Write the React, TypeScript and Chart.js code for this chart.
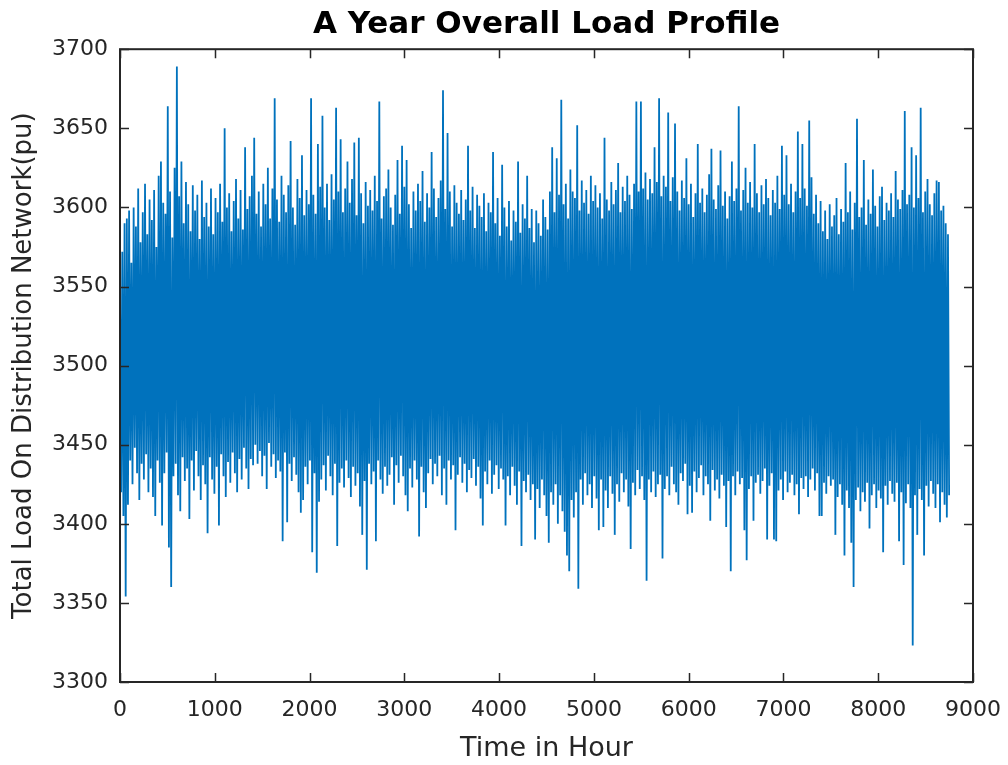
import React, { useEffect, useRef } from "react";
import { Chart, registerables } from "chart.js";

Chart.register(...registerables);

// Hours covered by one column of the envelope (upper spike, then lower spike)
const HOURS_PER_COLUMN = 24;

// Upper edge of the hourly load, read per day column (pu)
const dailyHigh: number[] = [
  3545, 3572, 3590, 3593, 3598, 3565, 3600, 3588, 3612, 3578,
  3597, 3615, 3583, 3605, 3592, 3611, 3575, 3620, 3629, 3603,
  3596, 3664, 3610, 3581, 3625, 3689, 3607, 3629, 3590, 3616,
  3602, 3585, 3614, 3598, 3608, 3580, 3617, 3594, 3603, 3588,
  3612, 3583, 3606, 3597, 3615, 3591, 3650, 3600, 3609, 3585,
  3604, 3618, 3593, 3611, 3586, 3638, 3599, 3607, 3620, 3644,
  3596, 3610, 3588, 3615, 3602, 3625, 3593, 3612, 3669, 3605,
  3591, 3620, 3608, 3597, 3614, 3642, 3600, 3589, 3618, 3606,
  3633, 3595, 3611, 3602, 3669, 3608, 3596, 3640, 3613, 3658,
  3600, 3615, 3592, 3621, 3605, 3663, 3610, 3643, 3597, 3612,
  3629, 3603, 3618, 3641, 3595, 3644, 3609, 3590, 3616, 3601,
  3611, 3598, 3620, 3604, 3667, 3593, 3607, 3612, 3624, 3600,
  3589, 3608, 3630, 3596, 3639, 3613, 3630, 3602, 3587, 3610,
  3598, 3615, 3604, 3623, 3591, 3609, 3600, 3635, 3612, 3594,
  3606, 3617, 3674, 3599, 3647, 3610, 3588, 3614, 3603, 3596,
  3611, 3592, 3605, 3639, 3598, 3613, 3587, 3608, 3601, 3594,
  3609, 3585, 3603, 3597, 3635, 3590, 3606, 3582, 3627, 3600,
  3588, 3604, 3579, 3598, 3591, 3629, 3584, 3602, 3593, 3620,
  3587, 3599, 3578, 3598, 3590, 3582, 3605, 3594, 3586, 3610,
  3638, 3597, 3631, 3608, 3668, 3602, 3615, 3593, 3624, 3610,
  3606, 3652, 3598, 3617, 3603, 3611, 3596, 3620, 3604, 3614,
  3600, 3609, 3593, 3644, 3605, 3598, 3616, 3602, 3611, 3628,
  3597, 3613, 3604, 3620, 3608, 3599, 3615, 3667, 3610, 3667,
  3612, 3622, 3605, 3618, 3609, 3638, 3616, 3669, 3607, 3620,
  3613, 3660, 3604, 3619, 3653, 3610, 3598, 3617, 3606, 3631,
  3602, 3615, 3594, 3609, 3640, 3603, 3612, 3597, 3608, 3621,
  3637, 3605, 3599, 3614, 3636, 3601, 3610, 3593, 3607, 3629,
  3604, 3612, 3664, 3598, 3611, 3625, 3603, 3616, 3600, 3640,
  3609, 3597, 3614, 3602, 3618, 3606, 3595, 3611, 3603, 3620,
  3599, 3639, 3608, 3633, 3602, 3615, 3597, 3610, 3648, 3606,
  3640, 3612, 3601, 3655, 3619, 3596, 3608, 3590, 3604, 3585,
  3598, 3580, 3602, 3588, 3595, 3606, 3583, 3599, 3591, 3628,
  3597, 3610, 3586, 3603, 3656, 3594, 3600, 3630, 3589, 3605,
  3596, 3624, 3601, 3588, 3607, 3613, 3592, 3603, 3598, 3609,
  3594, 3623, 3605, 3599, 3611, 3661, 3602, 3608, 3638, 3600,
  3633, 3606, 3663, 3597, 3610, 3618, 3602, 3595, 3609, 3617,
  3616, 3598, 3601, 3590, 3583,
];

// Lower edge of the hourly load, read per day column (pu)
const dailyLow: number[] = [
  3420, 3405, 3354, 3412, 3440, 3425, 3448, 3432, 3415, 3438,
  3428, 3444, 3420, 3435, 3417, 3405, 3440, 3426, 3399, 3432,
  3445, 3385, 3360, 3430, 3438, 3418, 3408, 3442, 3427, 3435,
  3403, 3440, 3421, 3446, 3430, 3415, 3437, 3425, 3394, 3442,
  3428, 3419, 3436, 3399, 3444, 3430, 3417, 3439, 3426, 3445,
  3432, 3420, 3441, 3428, 3448, 3435, 3422, 3441, 3437, 3450,
  3438, 3446, 3430, 3443, 3422, 3451, 3436, 3444, 3429, 3440,
  3433, 3389, 3445, 3401, 3438, 3427, 3442, 3431, 3420, 3407,
  3415, 3436, 3425, 3440, 3382, 3432, 3369, 3414, 3428, 3437,
  3421, 3443, 3430, 3418, 3438, 3386, 3426, 3435, 3423, 3440,
  3429, 3417, 3436, 3424, 3432, 3411, 3393, 3427, 3371, 3438,
  3425, 3433, 3389, 3440, 3428, 3419, 3436, 3424, 3431, 3442,
  3412, 3437, 3426, 3443, 3430, 3418, 3408, 3435, 3423, 3440,
  3428, 3392, 3436, 3420, 3410, 3432, 3441, 3425, 3438, 3430,
  3443, 3418, 3435, 3412, 3440, 3428, 3437, 3396, 3431, 3442,
  3426, 3438, 3420, 3434, 3429, 3441, 3424, 3436, 3416, 3399,
  3433, 3425, 3440, 3419, 3431, 3437, 3422, 3435, 3428, 3399,
  3430, 3418, 3436, 3424, 3412, 3433, 3386, 3427, 3420, 3431,
  3415, 3425, 3390, 3422, 3410, 3428, 3418, 3405, 3388, 3420,
  3412, 3425, 3400, 3418, 3408, 3395, 3380, 3370, 3415, 3404,
  3420, 3359, 3428, 3412, 3432, 3418, 3425, 3410, 3430, 3416,
  3396, 3428, 3398, 3421, 3410, 3430, 3419, 3393, 3425, 3414,
  3432, 3420, 3428, 3411, 3384, 3426, 3418, 3434, 3422, 3430,
  3415, 3364, 3428, 3420, 3433, 3417, 3425, 3431, 3378, 3422,
  3430, 3418, 3436, 3425, 3420, 3412, 3432, 3427, 3438, 3406,
  3424, 3407, 3433, 3420, 3429, 3437, 3418, 3430, 3425, 3402,
  3434, 3421, 3428, 3416, 3431, 3424, 3398, 3427, 3370, 3430,
  3418, 3433, 3425, 3429, 3396, 3377, 3422, 3430, 3402, 3426,
  3431, 3419, 3427, 3435, 3390, 3424, 3432, 3390, 3389, 3421,
  3428, 3415, 3433, 3420, 3426, 3431, 3418, 3425, 3406, 3429,
  3422, 3430, 3417, 3428, 3435, 3421, 3432, 3405, 3405, 3426,
  3419, 3430, 3424, 3428, 3393, 3417, 3425, 3412, 3380, 3421,
  3410, 3388, 3360, 3415, 3423, 3408, 3420, 3414, 3426, 3397,
  3418, 3425, 3410, 3421, 3416, 3382, 3424, 3412, 3427, 3419,
  3414, 3426, 3389, 3420, 3374, 3413, 3425, 3410, 3323, 3418,
  3393, 3422, 3415, 3380, 3424, 3411, 3427, 3419, 3410, 3425,
  3401, 3420, 3412, 3404, 3418,
];

const TITLE = "A Year Overall Load Profile";
const X_LABEL = "Time in Hour";
const Y_LABEL = "Total Load On Distribution Network(pu)";
const X_MIN = 0;
const X_MAX = 9000;
const X_STEP = 1000;
const Y_MIN = 3300;
const Y_MAX = 3700;
const Y_STEP = 50;

const LINE_COLOR = "#0072BD";
const AXIS_COLOR = "#262626";
const FONT = "'DejaVu Sans', 'Liberation Sans', Arial, sans-serif";

function buildSeries() {
  const pts: { x: number; y: number }[] = [];
  for (let i = 0; i < dailyHigh.length; i++) {
    pts.push({ x: i * HOURS_PER_COLUMN, y: dailyHigh[i] });
    pts.push({ x: i * HOURS_PER_COLUMN + HOURS_PER_COLUMN / 2, y: dailyLow[i] });
  }
  return pts;
}

const framePlugin = {
  id: "matlabFrame",
  afterDatasetsDraw(chart: any) {
    const { ctx, chartArea, scales } = chart;
    const { left, right, top, bottom } = chartArea;
    const xs = scales.x;
    const ys = scales.y;
    const L = 9;
    ctx.save();
    ctx.strokeStyle = AXIS_COLOR;
    ctx.lineWidth = 1.5;
    ctx.beginPath();
    xs.ticks.forEach((t: any) => {
      const px = Math.round(xs.getPixelForValue(t.value)) + 0.5;
      ctx.moveTo(px, bottom);
      ctx.lineTo(px, bottom - L);
      ctx.moveTo(px, top);
      ctx.lineTo(px, top + L);
    });
    ys.ticks.forEach((t: any) => {
      const py = Math.round(ys.getPixelForValue(t.value)) + 0.5;
      ctx.moveTo(left, py);
      ctx.lineTo(left + L, py);
      ctx.moveTo(right, py);
      ctx.lineTo(right - L, py);
    });
    ctx.stroke();
    ctx.lineWidth = 2;
    ctx.strokeRect(left, top, right - left, bottom - top);
    ctx.restore();
  },
};

export default function App() {
  const canvasRef = useRef<HTMLCanvasElement | null>(null);

  useEffect(() => {
    if (!canvasRef.current) return;
    const chart = new Chart(canvasRef.current, {
      type: "line",
      data: {
        datasets: [
          {
            data: buildSeries(),
            borderColor: LINE_COLOR,
            borderWidth: 1.8,
            pointRadius: 0,
            fill: false,
            tension: 0,
          },
        ],
      },
      options: {
        responsive: false,
        animation: false,
        layout: { padding: { left: 0, right: 35, top: 0, bottom: 0 } },
        plugins: {
          legend: { display: false },
          tooltip: { enabled: false },
          title: {
            display: true,
            text: TITLE,
            fullSize: false,
            color: "#000000",
            font: { family: FONT, size: 31, weight: "bold" },
            padding: { top: 6, bottom: 6 },
          },
        },
        scales: {
          x: {
            type: "linear",
            min: X_MIN,
            max: X_MAX,
            grid: { display: false, drawTicks: false },
            border: { display: false },
            ticks: {
              stepSize: X_STEP,
              color: AXIS_COLOR,
              font: { family: FONT, size: 22 },
              padding: 15,
              maxRotation: 0,
              callback: (v: any) => String(v),
            },
            title: {
              display: true,
              text: X_LABEL,
              color: AXIS_COLOR,
              font: { family: FONT, size: 27 },
              padding: { top: 0, bottom: 0 },
            },
            afterFit: (s: any) => {
              s.height = 83;
              s.paddingLeft = 0;
              s.paddingRight = 0;
            },
          },
          y: {
            type: "linear",
            min: Y_MIN,
            max: Y_MAX,
            grid: { display: false, drawTicks: false },
            border: { display: false },
            ticks: {
              stepSize: Y_STEP,
              color: AXIS_COLOR,
              font: { family: FONT, size: 22 },
              padding: 12,
              callback: (v: any) => String(v),
            },
            title: {
              display: true,
              text: Y_LABEL,
              color: AXIS_COLOR,
              font: { family: FONT, size: 26 },
              padding: { top: 9, bottom: 0 },
            },
            afterFit: (s: any) => {
              s.width = 120;
              s.paddingTop = 0;
              s.paddingBottom = 0;
            },
          },
        },
      },
      plugins: [framePlugin],
    } as any);
    return () => chart.destroy();
  }, []);

  return (
    <div
      style={{
        position: "fixed",
        left: 0,
        top: 0,
        width: 1008,
        height: 765,
        background: "#ffffff",
      }}
    >
      <canvas ref={canvasRef} width={1008} height={765} />
    </div>
  );
}
